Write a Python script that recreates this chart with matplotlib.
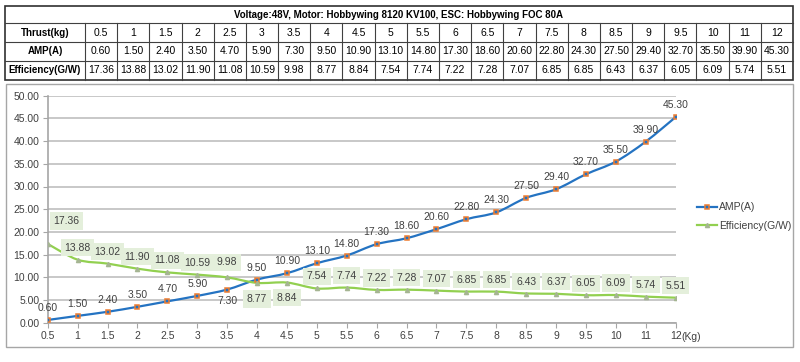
import numpy as np
import matplotlib
matplotlib.use('Agg')
import matplotlib.pyplot as plt
from matplotlib.path import Path
from matplotlib.patches import PathPatch, Rectangle
from matplotlib.lines import Line2D

plt.rcParams['font.family'] = ['Liberation Sans', 'DejaVu Sans']

# data
title = 'Voltage:48V, Motor: Hobbywing 8120 KV100, ESC: Hobbywing FOC 80A'
row_names = ['Thrust(kg)', 'AMP(A)', 'Efficiency(G/W)']
thrust = ['0.5', '1', '1.5', '2', '2.5', '3', '3.5', '4', '4.5', '5', '5.5',
          '6', '6.5', '7', '7.5', '8', '8.5', '9', '9.5', '10', '11', '12']
amp = [0.60, 1.50, 2.40, 3.50, 4.70, 5.90, 7.30, 9.50, 10.90, 13.10, 14.80,
       17.30, 18.60, 20.60, 22.80, 24.30, 27.50, 29.40, 32.70, 35.50, 39.90, 45.30]
eff = [17.36, 13.88, 13.02, 11.90, 11.08, 10.59, 9.98, 8.77, 8.84, 7.54, 7.74,
       7.22, 7.28, 7.07, 6.85, 6.85, 6.43, 6.37, 6.05, 6.09, 5.74, 5.51]

blue = '#2473C2'
orange = '#ED7D31'
green = '#92D050'
txt = '#404040'

fig = plt.figure(figsize=(8, 3.62), dpi=100)

# background layer in pixel coords (table + chart frame)
bg = fig.add_axes([0, 0, 1, 1])
bg.set_xlim(0, 800)
bg.set_ylim(362, 0)
bg.axis('off')

bg.add_patch(Rectangle((6, 84), 787, 263, fc='white', ec='#A6A6A6', lw=1))

# table
x0, xh, x1 = 5, 85, 793
rows = [6, 23.3, 41.7, 60.7, 80]
cw = (x1 - xh) / len(thrust)
bg.add_patch(Rectangle((x0, rows[0]), x1 - x0, rows[-1] - rows[0], fc='none', ec='#303030', lw=1.2))
for y in rows[1:-1]:
    bg.plot([x0, x1], [y, y], color='#404040', lw=0.8)
for k in range(len(thrust)):
    xx = xh + k * cw
    bg.plot([xx, xx], [rows[1], rows[-1]], color='#404040', lw=0.8)
bg.text((x0 + x1) / 2, (rows[0] + rows[1]) / 2, title, ha='center', va='center',
        fontsize=7, fontweight='bold', color='black')
cells = [thrust, ['%.2f' % v for v in amp], ['%.2f' % v for v in eff]]
for r in range(3):
    yc = (rows[r + 1] + rows[r + 2]) / 2
    bg.text((x0 + xh) / 2, yc, row_names[r], ha='center', va='center',
            fontsize=7, fontweight='bold', color='black')
    for k, s in enumerate(cells[r]):
        bg.text(xh + (k + 0.5) * cw, yc, s, ha='center', va='center', fontsize=7.5, color='black')

bg.text(681, 337, '(Kg)', ha='left', va='center', fontsize=7.5, color=txt)

# chart
ax = fig.add_axes([47.7 / 800, 39.3 / 362, 628 / 800, 227 / 362])
ax.set_facecolor('none')
x = np.arange(len(thrust))


def smooth_path(xs, ys):
    pts = np.column_stack([xs, ys]).astype(float)
    n = len(pts)
    verts = [pts[0]]
    codes = [Path.MOVETO]
    for i in range(n - 1):
        p0 = pts[max(i - 1, 0)]
        p1 = pts[i]
        p2 = pts[i + 1]
        p3 = pts[min(i + 2, n - 1)]
        verts += [p1 + (p2 - p0) / 6, p2 - (p3 - p1) / 6, p2]
        codes += [Path.CURVE4] * 3
    return Path(verts, codes)


ax.add_patch(PathPatch(smooth_path(x, amp), fc='none', ec=blue, lw=1.6, zorder=3))
ax.add_patch(PathPatch(smooth_path(x, eff), fc='none', ec=green, lw=1.6, zorder=3))
ax.plot(x, amp, ls='none', marker='s', ms=3.5, mfc=blue, mec=orange, mew=1.1, zorder=4)
ax.plot(x, eff, ls='none', marker='^', ms=3, mfc='#A5B592', mec='#A5B592', zorder=4)

ax.set_xlim(0, len(thrust) - 1)
ax.set_ylim(0, 50)
ax.set_xticks(x)
ax.set_xticklabels(thrust)
ax.set_yticks(np.arange(0, 51, 5))
ax.set_yticklabels(['%.2f' % v for v in np.arange(0, 51, 5)])
ax.yaxis.grid(True, color='#BFBFBF', lw=1.2)
ax.set_axisbelow(True)
for s in ['top', 'right']:
    ax.spines[s].set_visible(False)
for s in ['left', 'bottom']:
    ax.spines[s].set_color('#A6A6A6')
    ax.spines[s].set_linewidth(1.2)
ax.tick_params(axis='both', direction='out', length=3.5, color='#A6A6A6',
               labelsize=7.5, labelcolor=txt, pad=2.5)

# data labels
amp_off = {6: (0, -11)}
for i, v in enumerate(amp):
    dx, dy = amp_off.get(i, (0, 12))
    ax.annotate('%.2f' % v, (i, v), xytext=(dx, dy), textcoords='offset pixels',
                ha='center', va='center', fontsize=7.5, color=txt, zorder=5)

eff_off = {0: (19, 23), 6: (0, 15), 7: (0, -16), 8: (0, -15)}
for i, v in enumerate(eff):
    dx, dy = eff_off.get(i, (0, 12))
    ax.annotate('%.2f' % v, (i, v), xytext=(dx, dy), textcoords='offset pixels',
                ha='center', va='center', fontsize=7.5, color=txt, zorder=5,
                bbox=dict(boxstyle='square,pad=0.35', fc='#E4EFDB', ec='none'))

handles = [Line2D([], [], color=blue, lw=1.6, marker='s', ms=3.5, mfc=blue, mec=orange, mew=1.1),
           Line2D([], [], color=green, lw=1.6, marker='^', ms=3, mfc='#A5B592', mec='#A5B592')]
fig.legend(handles, ['AMP(A)', 'Efficiency(G/W)'], loc='center left',
           bbox_to_anchor=(697 / 800, (362 - 216.5) / 362), frameon=False,
           fontsize=7.5, labelcolor=txt, borderpad=0, borderaxespad=0,
           handlelength=1.9, handletextpad=0.2, labelspacing=0.8)

fig.savefig('out.png', dpi=100)
